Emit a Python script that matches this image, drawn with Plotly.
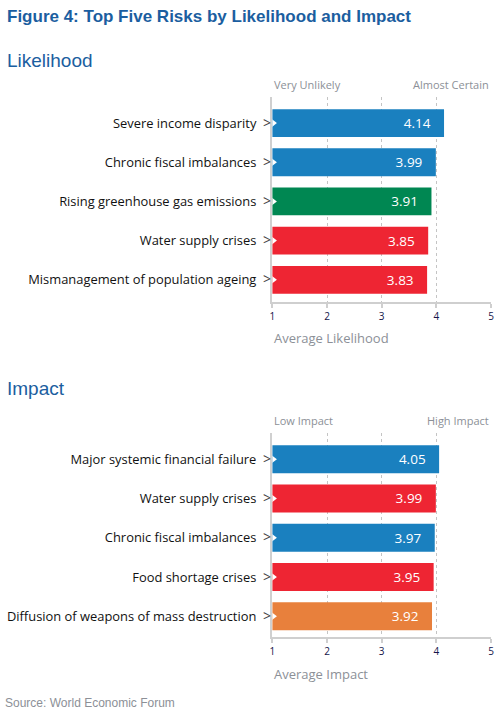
import plotly.graph_objects as go

# data
likelihood_risks = ["Severe income disparity", "Chronic fiscal imbalances",
                    "Rising greenhouse gas emissions", "Water supply crises",
                    "Mismanagement of population ageing"]
likelihood_scores = [4.14, 3.99, 3.91, 3.85, 3.83]
likelihood_types = ["Economic", "Economic", "Environmental", "Societal", "Societal"]

impact_risks = ["Major systemic financial failure", "Water supply crises",
                "Chronic fiscal imbalances", "Food shortage crises",
                "Diffusion of weapons of mass destruction"]
impact_scores = [4.05, 3.99, 3.97, 3.95, 3.92]
impact_types = ["Economic", "Societal", "Economic", "Societal", "Geopolitical"]

x_ticks = [1, 2, 3, 4, 5]

type_colors = {"Economic": "#1a80bf", "Environmental": "#008752",
               "Societal": "#ee2533", "Geopolitical": "#e8803c"}

TITLE_BLUE = "#1b5ea0"
GREY = "#8c9097"
FONT = "Open Sans"
PAD = "\u00a0" * 3  # room between value and bar end

fig = go.Figure()


def add_panel(risks, scores, types, xa, ya):
    labels = [r + "\u00a0 <span style='color:#444;font-size:14px'>></span>" for r in risks]
    fig.add_trace(go.Bar(
        x=scores, y=labels, orientation="h",
        marker=dict(color=[type_colors[t] for t in types], line=dict(width=0)),
        width=0.71,
        text=[f"{s:.2f}{PAD}" for s in scores],
        textposition="inside", insidetextanchor="end",
        textfont=dict(color="white", size=13.5, family=FONT),
        xaxis=xa, yaxis=ya, hoverinfo="skip",
    ))
    # small white notch at the start of each bar
    fig.add_trace(go.Scatter(
        x=[x_ticks[0]] * len(risks), y=labels, mode="markers",
        marker=dict(symbol="triangle-right", size=9, color="white"),
        xaxis=xa, yaxis=ya, hoverinfo="skip",
    ))


add_panel(likelihood_risks, likelihood_scores, likelihood_types, "x", "y")
add_panel(impact_risks, impact_scores, impact_types, "x2", "y2")

xax = dict(
    range=[1, 5], tickvals=x_ticks, showgrid=True, gridcolor="#c4c4c4",
    griddash="dot", gridwidth=1, zeroline=False,
    showline=True, linecolor="#cfcfcf", linewidth=2,
    ticks="outside", ticklen=4, tickcolor="#cfcfcf", tickwidth=2,
    tickfont=dict(size=10, color="#14144a", family=FONT),
    domain=[0.541, 0.980], fixedrange=True,
)
yax = dict(
    showgrid=False, zeroline=False, showline=True, linecolor="#d0d0d0",
    linewidth=1.5, ticks="", tickfont=dict(size=12.9, color="#111", family=FONT),
    ticklabelstandoff=-3, autorange=False, fixedrange=True,
)

fig.update_layout(
    width=504, height=715,
    margin=dict(l=0, r=0, t=0, b=0),
    paper_bgcolor="white", plot_bgcolor="white",
    showlegend=False, bargap=0.3,
    font=dict(family=FONT),
    xaxis=dict(xax, anchor="y"),
    yaxis=dict(yax, domain=[0.578, 0.864], range=[4.56, -0.66], anchor="x"),
    xaxis2=dict(xax, anchor="y2"),
    yaxis2=dict(yax, domain=[0.109, 0.394], range=[4.53, -0.66], anchor="x2"),
)

# headings and source
fig.add_annotation(text="<b>Figure 4: Top Five Risks by Likelihood and Impact</b>",
                   xref="paper", yref="paper", x=0, y=1 - 16 / 715, xshift=2,
                   xanchor="left", yanchor="middle", showarrow=False,
                   font=dict(family="Liberation Sans", size=17, color=TITLE_BLUE))
for txt, ypx in [("Likelihood", 60), ("Impact", 388)]:
    fig.add_annotation(text=txt, xref="paper", yref="paper", x=0, y=1 - ypx / 715,
                       xshift=2, xanchor="left", yanchor="middle", showarrow=False,
                       font=dict(family="Liberation Sans", size=19, color=TITLE_BLUE))
fig.add_annotation(text="Source: World Economic Forum", xref="paper", yref="paper",
                   x=0, y=1 - 703 / 715, xshift=0, xanchor="left", yanchor="middle",
                   showarrow=False,
                   font=dict(family="Liberation Sans", size=12, color=GREY))

# scale end labels and axis titles
for xa, left, right, title, top_px, bottom_px in [
        ("x", "Very Unlikely", "Almost Certain", "Average Likelihood", 85, 338),
        ("x2", "Low Impact", "High Impact", "Average Impact", 421, 674)]:
    fig.add_annotation(text=left, xref=xa, yref="paper", x=x_ticks[0], y=1 - top_px / 715,
                       xanchor="left", yanchor="middle", showarrow=False,
                       font=dict(size=11, color=GREY, family=FONT))
    fig.add_annotation(text=right, xref=xa, yref="paper", x=x_ticks[-1], y=1 - top_px / 715,
                       xanchor="right", yanchor="middle", showarrow=False,
                       font=dict(size=11, color=GREY, family=FONT))
    fig.add_annotation(text=title, xref=xa, yref="paper", x=x_ticks[0], y=1 - bottom_px / 715,
                       xanchor="left", yanchor="middle", showarrow=False,
                       font=dict(size=13, color=GREY, family=FONT))

# drop the page's default body margin so the 504x715 figure fills the window
fig.write_html("out.html", config={"displayModeBar": False},
               post_script="document.body.style.margin='0px';")
